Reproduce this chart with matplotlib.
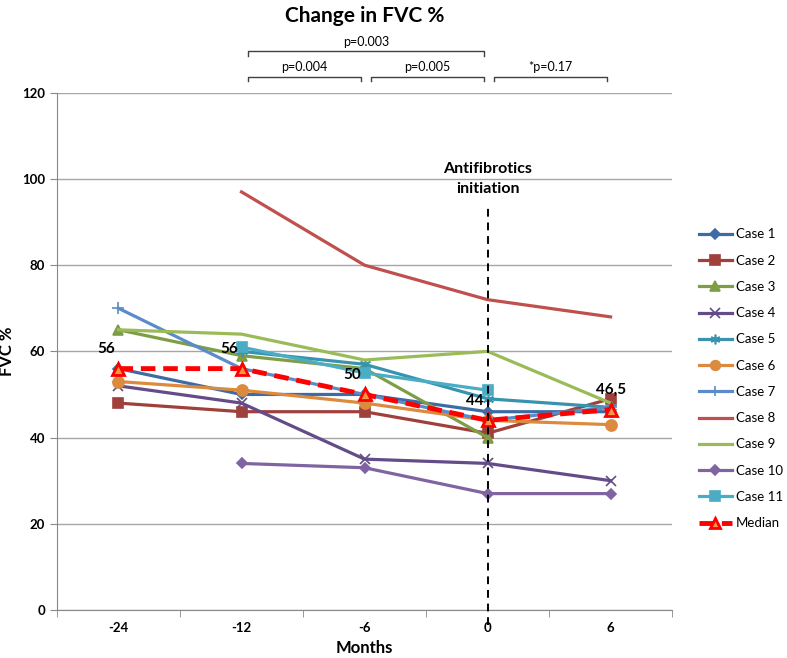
"""
Change in FVC % per case, around antifibrotics initiation.
"""
import numpy as np
import matplotlib.pyplot as plt

plt.rcParams['font.family'] = ['Lato', 'DejaVu Sans']

months = ['-24', '-12', '-6', '0', '6']
nan = np.nan

case_names = ['Case 1', 'Case 2', 'Case 3', 'Case 4', 'Case 5', 'Case 6',
              'Case 7', 'Case 8', 'Case 9', 'Case 10', 'Case 11']
case_values = [
    [56, 50, 50, 46, 46],
    [48, 46, 46, 41, 49],
    [65, 59, 56, 40, nan],
    [52, 48, 35, 34, 30],
    [nan, 60, 57, 49, 47],
    [53, 51, 48, 44, 43],
    [70, 56, 50, 44, 47],
    [nan, 97, 80, 72, 68],
    [65, 64, 58, 60, 48],
    [nan, 34, 33, 27, 27],
    [nan, 61, 55, 51, nan],
]
median_values = [56, 56, 50, 44, 46.5]
median_labels = ['56', '56', '50', '44', '46,5']

p_brackets = [('-12', '0', 'p=0.003', 'upper'),
              ('-12', '-6', 'p=0.004', 'lower'),
              ('-6', '0', 'p=0.005', 'lower'),
              ('0', '6', '*p=0.17', 'lower')]

case_colors = ['#3D6BA6', '#A0403D', '#7E9E45', '#634C87', '#3793AE',
               '#DB8A3E', '#5B8BC8', '#C0504D', '#9BBB59', '#8064A2',
               '#4BACC6']
case_markers = ['D', 's', '^', 'x', (6, 2, 0), 'o', '+', None, None, 'D',
                's']
case_msizes = [5, 7, 7, 7, 8, 8, 9, 0, 0, 5, 7]


def main():
    fig = plt.figure(figsize=(7.87, 6.58), dpi=100)
    ax = fig.add_axes([0.0724, 0.073, 0.7816, 0.786])
    x = np.arange(len(months))

    for name, vals, col, mk, ms in zip(case_names, case_values, case_colors,
                                       case_markers, case_msizes):
        ax.plot(x, vals, color=col, lw=2.3, marker=mk, markersize=ms,
                markeredgewidth=1.2, label=name, zorder=3)

    ax.plot(x, median_values, color='#FF0000', lw=3.5, ls=(0, (3, 1.6)),
            marker='^', markersize=9, markerfacecolor='#F79646',
            markeredgecolor='#FF0000', markeredgewidth=2, label='Median',
            zorder=4)
    for i, (v, lab) in enumerate(zip(median_values, median_labels)):
        dx = 0 if i == len(median_values) - 1 else -9
        ax.annotate(lab, (x[i], v), xytext=(dx, 14), textcoords='offset points',
                    ha='center', va='center', fontsize=11, fontweight='bold',
                    zorder=5)

    # antifibrotics initiation marker
    x0 = months.index('0')
    ax.plot([x0, x0], [-3.5, 94], color='black', lw=1.4, ls=(0, (4, 3)),
            clip_on=False, zorder=5)
    ax.text(x0, 100, 'Antifibrotics\ninitiation', ha='center', va='center',
            fontsize=11.5, fontweight='bold', linespacing=1.5)

    ax.set_xlim(-0.5, len(months) - 0.5)
    ax.set_ylim(0, 120)
    ax.set_yticks(np.arange(0, 121, 20))
    ax.set_xticks(x)
    ax.set_xticklabels(months, fontweight='bold', fontsize=9.5)
    ax.set_xticks(np.arange(-0.5, len(months)), minor=True)
    ax.tick_params(axis='x', which='major', length=0, pad=9)
    ax.tick_params(axis='x', which='minor', length=5, color='#888888')
    ax.tick_params(axis='y', length=5, color='#888888', labelsize=9.5)
    for lab in ax.get_yticklabels():
        lab.set_fontweight('bold')
    ax.grid(axis='y', color='#A6A6A6', lw=1)
    ax.set_axisbelow(True)
    for side in ['top', 'right']:
        ax.spines[side].set_visible(False)
    for side in ['left', 'bottom']:
        ax.spines[side].set_color('#888888')
    ax.set_xlabel('Months', fontsize=12, fontweight='bold', labelpad=4)
    ax.set_ylabel('FVC %', fontsize=12, fontweight='bold')
    ax.yaxis.set_label_coords(-0.068, 0.5)

    fig.text(0.464, 0.975, 'Change in FVC %', ha='center', va='center',
             fontsize=15, fontweight='bold')

    # significance brackets above the plot
    trans = ax.get_xaxis_transform()
    levels = {'upper': (1.081, 1.099), 'lower': (1.031, 1.049)}
    for start, end, text, level in p_brackets:
        x1 = months.index(start) + 0.05
        x2 = months.index(end) - 0.03
        yb, yt = levels[level]
        ax.plot([x1, x1, x2, x2], [yb - 0.009, yb, yb, yb - 0.009],
                color='#404040', lw=1, transform=trans, clip_on=False)
        ax.text((x1 + x2) / 2, yt, text, ha='center', va='center',
                fontsize=9, transform=trans)

    leg = ax.legend(loc='center left', bbox_to_anchor=(1.037, 0.447),
                    borderaxespad=0, frameon=False, fontsize=9.5,
                    handlelength=2.5, labelspacing=1.08, handletextpad=0.3,
                    borderpad=0.3)
    for h in leg.legend_handles:
        h.set_markersize(min(h.get_markersize(), 7))

    fig.savefig('out.png', dpi=100)


if __name__ == '__main__':
    main()
